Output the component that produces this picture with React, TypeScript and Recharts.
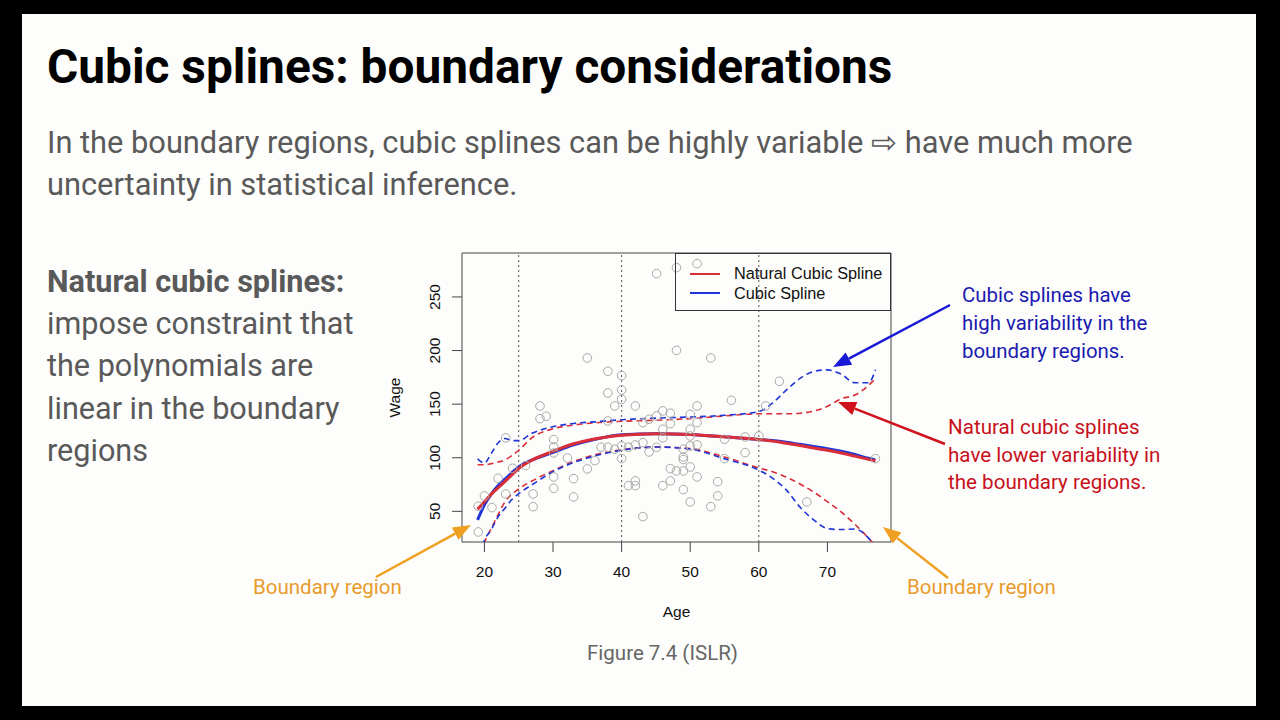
import {
  ComposedChart,
  Line,
  Scatter,
  XAxis,
  YAxis,
  ReferenceLine,
  ReferenceArea,
  Legend,
} from 'recharts';

// fitted curves on a common age grid
const ages = [19, 20, 21, 22, 23, 24, 25, 27, 30, 33, 36, 40, 45, 50, 55, 60, 62, 64, 66, 68, 70, 72, 74, 76, 77];
const naturalFit = [52, 59, 66, 72, 78, 84, 90, 98, 106, 113, 117.5, 121, 122.5, 121.7, 119.5, 117, 115.5, 113.5, 111.5, 109, 107, 104.5, 101.5, 98.5, 97];
const cubicFit = [42, 56, 66, 74, 80, 86, 91.5, 98, 105, 112, 117, 121.5, 122.5, 121.7, 119.5, 117, 116, 114.5, 112.5, 110.5, 108.5, 106, 103, 99.5, 98];
const naturalUpper = [93.5, 93.5, 94.5, 96, 98, 102, 107, 119, 127, 130.5, 132.5, 134, 135, 136.5, 139, 141, 141, 141, 141.5, 143.5, 148, 155, 158.5, 167.5, 174];
const naturalLower = [2, 21, 34, 47, 59, 66, 71, 78.5, 88, 96.5, 102.5, 107.5, 110, 108.5, 100.7, 90.5, 87, 82, 75.5, 68, 59, 49.5, 38, 25, 18];
const cubicUpper = [99, 95, 104, 114, 118, 116, 116, 123, 129, 132, 133.5, 135.5, 137, 138, 139.6, 143, 151, 163, 174, 180.5, 182, 178, 170, 170, 182];
const cubicLower = [0, 23, 33, 45, 53, 61, 66.5, 75, 87, 95.5, 101.5, 107, 110, 108, 99, 88.5, 81, 70, 54, 42, 34, 33, 33.5, 25, 17];

// observations (age, wage)
const pointAges = [45.1, 48, 51, 35, 48, 53, 38, 40, 40, 38, 40, 28.1, 39, 42, 51, 28.1, 29, 38, 43.1, 44, 45.1, 46, 47.1, 50, 51, 46, 50, 56, 63, 61, 23.1, 30.1, 30.1, 30.1, 32.1, 30.1, 33, 30.1, 33, 27.1, 27.1, 23.1, 21.1, 19.1, 20, 22, 24.1, 26, 19.1, 35, 36.1, 37, 38, 39, 40, 41, 42, 43.1, 40, 44, 45.1, 46, 47.1, 49, 49, 49, 50, 51, 50, 47.1, 48, 49, 50, 51, 47.1, 46, 42, 41, 42, 49, 50, 43.1, 53, 54, 54, 55, 55, 58, 58, 60, 67, 77];
const pointWages = [271.8, 277.4, 281.1, 193.1, 200.2, 193.1, 180.7, 176.6, 163.2, 160.4, 154.5, 148.3, 148.3, 148.3, 148.3, 136.5, 138.7, 134.3, 132.8, 135.9, 139, 143.7, 141.5, 140.5, 132.8, 126.6, 126.6, 153.6, 171.3, 148.3, 118.5, 116.9, 110.1, 104.5, 99.8, 82.1, 80.5, 71.5, 63.4, 66.2, 54.4, 66.2, 53.5, 54.7, 64.4, 80.8, 90.2, 92.7, 30.8, 89.6, 97.3, 109.8, 109.8, 107.9, 111, 109.8, 112, 114.1, 99.2, 105.4, 109.8, 118.5, 131.8, 107.9, 100.7, 98.3, 111, 112, 120.3, 89.9, 87.7, 87.7, 91.4, 82.1, 78.4, 74, 78.4, 74, 74, 70.3, 58.8, 45.1, 54.4, 64.4, 77.7, 99.2, 117.2, 119.4, 104.8, 120.3, 58.8, 99.2];

const knots = [25, 40, 60];
const xTicks = [20, 30, 40, 50, 60, 70];
const yTicks = [50, 100, 150, 200, 250];
const xDomain = [16.73, 79.27];
const yDomain = [21.4, 291];

const legendItems = [
  { label: 'Natural Cubic Spline', color: '#d92d38' },
  { label: 'Cubic Spline', color: '#2036d6' },
];

const RED = '#d92d38';
const BLUE = '#2036d6';
const AXIS_FONT = '"Liberation Sans", Arial, sans-serif';
const SLIDE_FONT = 'Roboto, "Noto Sans", sans-serif';

const toSeries = (ys: number[]) => ages.map((age, i) => ({ age, wage: ys[i] }));
const points = pointAges.map((age, i) => ({ age, wage: pointWages[i] }));

function YTick({ x, y, payload }: any) {
  return (
    <text
      transform={`translate(${x},${y}) rotate(-90)`}
      textAnchor="middle"
      fontSize={15.5}
      fontFamily={AXIS_FONT}
      fill="#111"
    >
      {payload.value}
    </text>
  );
}

function OpenCircle({ cx, cy }: any) {
  return <circle cx={cx} cy={cy} r={4.3} fill="none" stroke="#a8a8a8" strokeWidth={1} />;
}

function SplineLegend() {
  return (
    <div
      style={{
        width: 216,
        height: 58,
        boxSizing: 'border-box',
        border: '1px solid #333',
        padding: '10px 0 0 14px',
        fontFamily: AXIS_FONT,
        fontSize: 16.3,
        color: '#111',
      }}
    >
      {legendItems.map((item) => (
        <div key={item.label} style={{ display: 'flex', alignItems: 'center', height: 19.5 }}>
          <span style={{ width: 30, height: 2, background: item.color, marginRight: 14 }} />
          <span>{item.label}</span>
        </div>
      ))}
    </div>
  );
}

function SplineChart() {
  const dashed = { strokeWidth: 1.6, strokeDasharray: '6 4', dot: false, isAnimationActive: false, type: 'monotone' as const };
  return (
    <ComposedChart width={520} height={390} margin={{ top: 13, right: 9, bottom: 12, left: 2 }}>
      <XAxis
        type="number"
        dataKey="age"
        domain={xDomain}
        ticks={xTicks}
        allowDataOverflow
        axisLine={false}
        tickSize={10}
        tickMargin={14}
        tickLine={{ stroke: '#444' }}
        tick={{ fontSize: 15.5, fontFamily: AXIS_FONT, fill: '#111' }}
        height={76}
        label={{ value: 'Age', position: 'insideBottom', offset: 1, fontSize: 15.5, fontFamily: AXIS_FONT, fill: '#111' }}
      />
      <YAxis
        type="number"
        dataKey="wage"
        domain={yDomain}
        ticks={yTicks}
        allowDataOverflow
        axisLine={false}
        tickSize={10}
        tickMargin={12}
        tickLine={{ stroke: '#444' }}
        tick={<YTick />}
        width={80}
        label={{
          value: 'Wage',
          angle: -90,
          position: 'insideLeft',
          offset: 12,
          fontSize: 15.5,
          fontFamily: AXIS_FONT,
          fill: '#111',
          style: { textAnchor: 'middle' },
        }}
      />
      <ReferenceArea x1={xDomain[0]} x2={xDomain[1]} y1={yDomain[0]} y2={yDomain[1]} fill="none" stroke="#444" strokeWidth={1} />
      {knots.map((k) => (
        <ReferenceLine key={k} x={k} stroke="#555" strokeDasharray="2 3" />
      ))}
      <Scatter data={points} dataKey="wage" shape={<OpenCircle />} isAnimationActive={false} />
      <Line data={toSeries(naturalUpper)} dataKey="wage" stroke={RED} {...dashed} />
      <Line data={toSeries(naturalLower)} dataKey="wage" stroke={RED} {...dashed} />
      <Line data={toSeries(cubicUpper)} dataKey="wage" stroke={BLUE} {...dashed} />
      <Line data={toSeries(cubicLower)} dataKey="wage" stroke={BLUE} {...dashed} />
      <Line data={toSeries(cubicFit)} dataKey="wage" stroke={BLUE} strokeWidth={3} dot={false} type="monotone" isAnimationActive={false} />
      <Line data={toSeries(naturalFit)} dataKey="wage" stroke={RED} strokeWidth={3} dot={false} type="monotone" isAnimationActive={false} />
      <Legend
        layout="vertical"
        align="center"
        verticalAlign="middle"
        content={<SplineLegend />}
        wrapperStyle={{ top: 13, left: 295, width: 216, height: 58 }}
      />
    </ComposedChart>
  );
}

function Arrow({ x1, y1, x2, y2, color }: { x1: number; y1: number; x2: number; y2: number; color: string }) {
  const ang = Math.atan2(y2 - y1, x2 - x1);
  const len = 18;
  const half = 7;
  const bx = x2 - len * Math.cos(ang);
  const by = y2 - len * Math.sin(ang);
  const px = -Math.sin(ang) * half;
  const py = Math.cos(ang) * half;
  return (
    <g>
      <line x1={x1} y1={y1} x2={bx} y2={by} stroke={color} strokeWidth={2.5} />
      <polygon points={`${x2},${y2} ${bx + px},${by + py} ${bx - px},${by - py}`} fill={color} />
    </g>
  );
}

const textBlock = (top: number, left: number, size: number, lh: number, color: string, extra = {}) => ({
  position: 'absolute' as const,
  top,
  left,
  fontSize: size,
  lineHeight: `${lh}px`,
  color,
  fontFamily: SLIDE_FONT,
  whiteSpace: 'nowrap' as const,
  ...extra,
});

export default function App() {
  return (
    <div style={{ position: 'fixed', left: 0, top: 0, width: 1280, height: 720, background: '#000', overflow: 'hidden' }}>
      <div style={{ position: 'absolute', left: 22, top: 14, width: 1234, height: 692, background: '#fdfdfb' }} />
      <div style={textBlock(42.5, 47, 47.8, 48, '#000', { fontWeight: 700 })}>Cubic splines: boundary considerations</div>
      <div style={textBlock(122, 47, 30.8, 42, '#595959')}>
        In the boundary regions, cubic splines can be highly variable ⇨ have much more
        <br />
        uncertainty in statistical inference.
      </div>
      <div style={textBlock(261, 47, 30.6, 42.2, '#595959')}>
        <b>Natural cubic splines:</b>
        <br />
        impose constraint that
        <br />
        the polynomials are
        <br />
        linear in the boundary
        <br />
        regions
      </div>
      <div style={{ position: 'absolute', left: 380, top: 240 }}>
        <SplineChart />
      </div>
      <div style={textBlock(280.7, 962, 20.4, 28, '#1a1ab0')}>
        Cubic splines have
        <br />
        high variability in the
        <br />
        boundary regions.
      </div>
      <div style={textBlock(414, 948, 20.6, 27.7, '#c8101c')}>
        Natural cubic splines
        <br />
        have lower variability in
        <br />
        the boundary regions.
      </div>
      <div style={textBlock(573, 253, 20.5, 28, '#e89b2b')}>Boundary region</div>
      <div style={textBlock(573, 907, 20.5, 28, '#e89b2b')}>Boundary region</div>
      <div style={textBlock(639, 587, 20.5, 28, '#666')}>Figure 7.4 (ISLR)</div>
      <svg width={1280} height={720} style={{ position: 'absolute', left: 0, top: 0, pointerEvents: 'none' }}>
        <Arrow x1={950} y1={305} x2={833} y2={367} color="#1a1ad6" />
        <Arrow x1={945} y1={444} x2={838} y2={402} color="#d0121d" />
        <Arrow x1={376} y1={577} x2={471} y2={525} color="#f0a020" />
        <Arrow x1={948} y1={578} x2={883} y2={527} color="#f0a020" />
      </svg>
    </div>
  );
}
